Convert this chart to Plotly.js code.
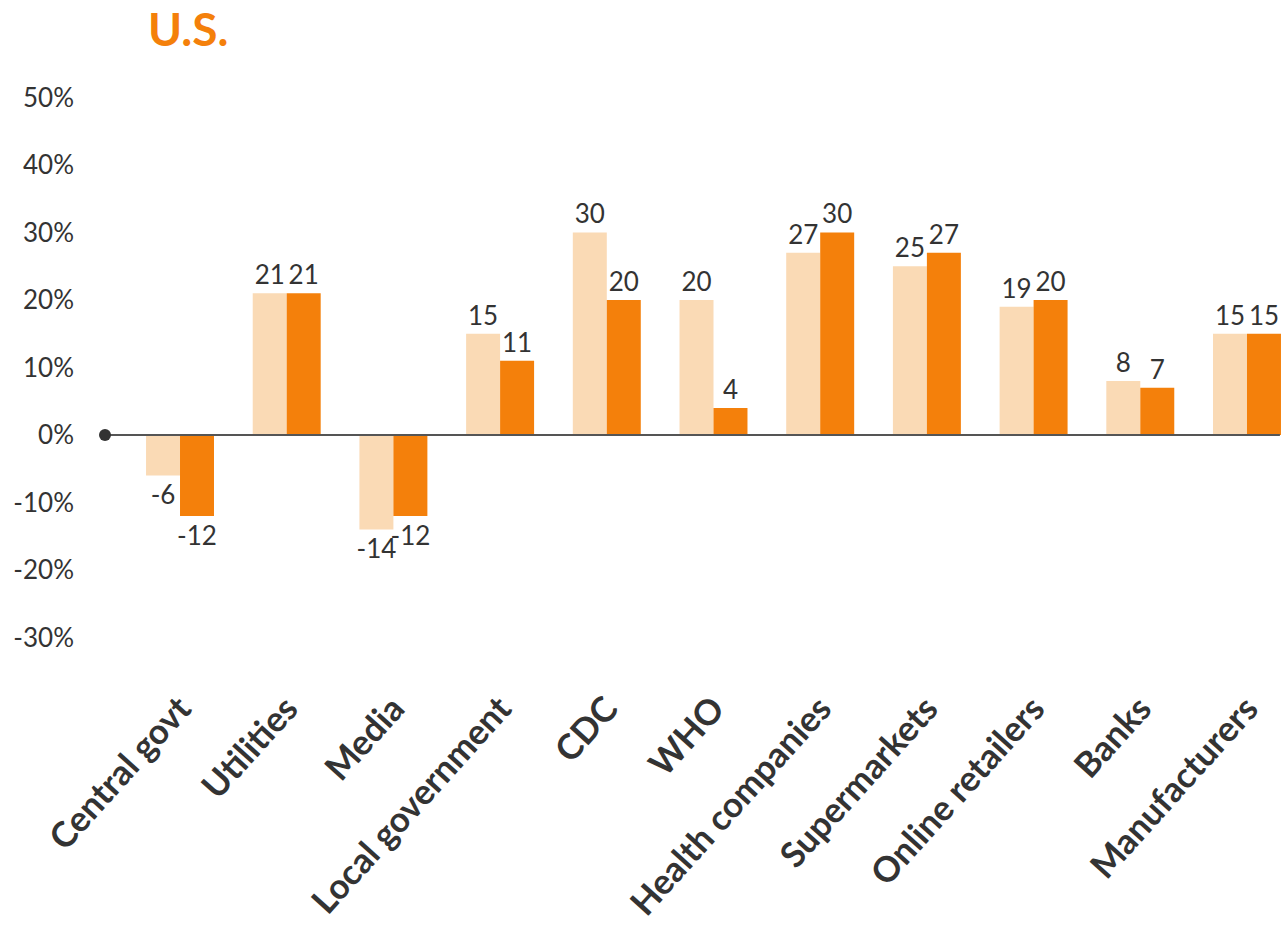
<!DOCTYPE html>
<html>
<head>
<meta charset="utf-8">
<script src="https://cdn.plot.ly/plotly-3.0.1.min.js"></script>
<style>
  html, body { margin: 0; padding: 0; background: #fff; }
  #chart { width: 1287px; height: 948px; }
</style>
</head>
<body>
<div id="chart"></div>
<script>
  // Net trust change by institution, U.S. (two survey waves)
  var categories = [
    "Central govt", "Utilities", "Media", "Local government", "CDC", "WHO",
    "Health companies", "Supermarkets", "Online retailers", "Banks", "Manufacturers"
  ];
  var earlier = [-6, 21, -14, 15, 30, 20, 27, 25, 19, 8, 15];
  var later = [-12, 21, -12, 11, 20, 4, 30, 27, 20, 7, 15];
  var tickVals = [-30, -20, -10, 0, 10, 20, 30, 40, 50];

  var TEXT = "#333333";
  var LIGHT = "#fadab5";
  var ORANGE = "#f4800b";
  var FONT = "Lato, 'Open Sans', sans-serif";

  function barTrace(values, color) {
    return {
      type: "bar",
      x: categories,
      y: values,
      marker: { color: color },
      text: values.map(function (v) { return String(v); }),
      textposition: "outside",
      constraintext: "none",
      cliponaxis: false,
      textfont: { family: FONT, size: 26, color: TEXT },
      hoverinfo: "skip"
    };
  }

  var traces = [barTrace(earlier, LIGHT), barTrace(later, ORANGE)];

  var layout = {
    width: 1287,
    height: 948,
    paper_bgcolor: "#fff",
    plot_bgcolor: "#fff",
    showlegend: false,
    barmode: "group",
    bargap: 0.363,
    bargroupgap: 0,
    margin: { l: 105, r: 0, t: 80, b: 268 },
    title: {
      text: "<b>U.S.</b>",
      font: { family: FONT, size: 46, color: ORANGE },
      x: (148 - 105) / 1182,
      xanchor: "left",
      xref: "paper",
      y: 0.968,
      yanchor: "middle"
    },
    xaxis: {
      type: "category",
      range: [-0.703, 10.375],
      showgrid: false,
      showline: false,
      zeroline: false,
      ticks: "",
      tickangle: -48,
      tickfont: { family: FONT, size: 35, color: TEXT, weight: 700 }
    },
    yaxis: {
      range: [-36.30, 52.59],
      tickvals: tickVals,
      ticktext: tickVals.map(function (v) { return v + "%"; }),
      showgrid: false,
      showline: false,
      zeroline: false,
      ticks: "",
      ticklabelstandoff: 30,
      tickfont: { family: FONT, size: 26, color: TEXT }
    },
    shapes: [
      {
        type: "line",
        xref: "paper", x0: 0, x1: 0.994,
        yref: "y", y0: 0, y1: 0,
        line: { color: "#555555", width: 2 }
      },
      {
        type: "circle",
        xref: "paper", yref: "y",
        xsizemode: "pixel", ysizemode: "pixel",
        xanchor: 0, yanchor: 0,
        x0: -6, x1: 6, y0: -6, y1: 6,
        fillcolor: "#333333",
        line: { width: 0 }
      }
    ]
  };

  Plotly.newPlot("chart", traces, layout, { displayModeBar: false, staticPlot: true });
</script>
</body>
</html>
